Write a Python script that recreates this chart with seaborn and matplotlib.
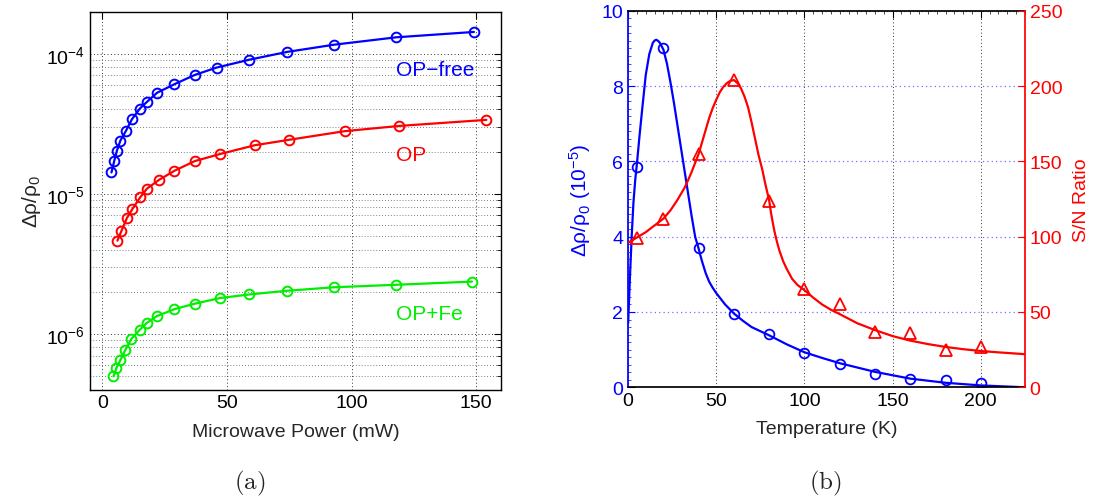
import matplotlib
matplotlib.use("Agg")
import matplotlib.pyplot as plt
import seaborn as sns
import numpy as np
from matplotlib.ticker import MultipleLocator, LogLocator, NullFormatter

# ---- panel (a): signal vs microwave power (log y) ----
free_power = [3.6, 4.7, 5.75, 7.2, 9.4, 11.8, 15.0, 17.9, 21.9, 28.9, 37.1, 45.8, 58.9, 74.1, 93.0, 118.0, 149.1]
free_signal = [1.42e-5, 1.71e-5, 2.02e-5, 2.40e-5, 2.81e-5, 3.40e-5, 4.06e-5, 4.54e-5, 5.26e-5,
               6.06e-5, 7.06e-5, 7.96e-5, 9.06e-5, 1.03e-4, 1.16e-4, 1.31e-4, 1.43e-4]

op_power = [6.0, 7.6, 9.8, 11.9, 15.1, 17.9, 22.8, 28.9, 37.0, 47.1, 61.1, 75.0, 97.3, 119.1, 154.1]
op_signal = [4.63e-6, 5.42e-6, 6.71e-6, 7.73e-6, 9.41e-6, 1.09e-5, 1.26e-5, 1.46e-5, 1.71e-5,
             1.92e-5, 2.22e-5, 2.43e-5, 2.80e-5, 3.05e-5, 3.37e-5]

fe_power = [4.4, 5.6, 7.2, 9.2, 11.6, 15.0, 17.9, 21.9, 28.9, 37.0, 47.1, 58.9, 74.1, 93.0, 118.0, 148.3]
fe_signal = [4.97e-7, 5.70e-7, 6.50e-7, 7.69e-7, 9.21e-7, 1.07e-6, 1.20e-6, 1.34e-6, 1.50e-6,
             1.64e-6, 1.80e-6, 1.91e-6, 2.03e-6, 2.15e-6, 2.24e-6, 2.36e-6]

# ---- panel (b): signal and S/N vs temperature ----
temp_pts = [5, 20, 40, 60, 80, 100, 120, 140, 160, 180, 200]
drho_pts = [5.86, 9.01, 3.70, 1.94, 1.41, 0.92, 0.63, 0.34, 0.23, 0.19, 0.12]
snr_pts = [99, 112, 155, 204, 124, 65, 55, 37, 36, 25, 27]

# fitted curves
drho_fit_t = [0, 1, 2, 3, 4, 5, 6.5, 8, 10, 12, 14, 15, 16, 17, 18, 20, 22, 24, 26, 28, 30, 32, 34,
              36, 38, 40, 41, 42, 44, 46, 48, 50, 55, 60, 65, 70, 80, 90, 100, 110, 120, 140, 160,
              180, 200, 225]
drho_fit = [1.7, 2.9, 4.0, 4.9, 5.5, 5.95, 6.7, 7.4, 8.3, 8.85, 9.15, 9.21, 9.23, 9.2, 9.15, 8.97,
            8.6, 8.1, 7.55, 6.95, 6.35, 5.75, 5.15, 4.55, 4.0, 3.68, 3.5, 3.33, 3.03, 2.8, 2.64,
            2.5, 2.2, 1.96, 1.77, 1.6, 1.38, 1.14, 0.93, 0.78, 0.64, 0.41, 0.23, 0.12, 0.05, 0.0]
snr_fit_t = [0, 5, 10, 15, 20, 24, 28, 32, 34, 36, 38, 40, 42, 44, 46, 48, 50, 52, 54, 56, 58, 60,
             62, 64, 66, 68, 70, 72, 74, 76, 78, 80, 81, 82, 83, 84, 85, 86, 88, 90, 93, 96, 100,
             105, 110, 115, 120, 130, 140, 150, 160, 170, 180, 190, 200, 210, 225]
snr_fit = [96, 99.5, 103, 107.5, 112, 117.5, 124.5, 132.5, 137.5, 143, 149, 155, 163, 171, 179,
           185.5, 191, 196, 199.5, 202, 203.5, 204, 202, 198.5, 193, 186, 176, 165, 154, 145, 134,
           124, 116, 109.5, 103.5, 98.5, 94, 90, 83.5, 78.5, 72, 68, 64.5, 59.5, 55, 51.5, 48.6,
           42.5, 38, 34, 31, 28.7, 26.8, 25.3, 24.1, 23.2, 22]

BLUE, RED, GREEN = "#0000ff", "#ff0000", "#00ee00"
DOTS = (0, (1, 2.5))

sns.set_theme(style="white")
plt.rcParams["font.family"] = ["Liberation Sans", "DejaVu Sans"]
plt.rcParams["mathtext.fontset"] = "custom"
plt.rcParams["mathtext.rm"] = "Liberation Sans"
plt.rcParams["mathtext.it"] = "Liberation Sans:italic"
plt.rcParams["xtick.direction"] = "in"
plt.rcParams["ytick.direction"] = "in"

fig = plt.figure(figsize=(11.02, 5.02), dpi=100)
ax1 = fig.add_axes([0.0817, 0.222, 0.373, 0.753])
ax2 = fig.add_axes([0.570, 0.2265, 0.360, 0.750])

# ---------------- panel (a) ----------------
for xs, ys, col in [(free_power, free_signal, BLUE), (op_power, op_signal, RED), (fe_power, fe_signal, GREEN)]:
    sns.lineplot(x=xs, y=ys, color=col, marker="o", mfc="none", mec=col, ms=7, mew=1.4,
                 lw=1.6, ax=ax1)

ax1.set_yscale("log")
ax1.set_xlim(-5, 160)
ax1.set_ylim(4e-7, 2e-4)
ax1.xaxis.set_major_locator(MultipleLocator(50))
ax1.yaxis.set_major_locator(LogLocator(base=10))
ax1.yaxis.set_minor_locator(LogLocator(base=10, subs=np.arange(2, 10)))
ax1.yaxis.set_minor_formatter(NullFormatter())
ax1.grid(True, which="major", color="#333333", ls=DOTS, lw=0.7)
ax1.grid(True, which="minor", axis="y", color="#555555", ls=DOTS, lw=0.6)
ax1.set_axisbelow(True)
ax1.tick_params(which="both", top=True, right=True, labelsize=14, colors="black")
ax1.tick_params(which="major", length=5, width=0.8)
ax1.tick_params(which="minor", length=3, width=0.6)
for sp in ax1.spines.values():
    sp.set_color("black")
    sp.set_linewidth(1.0)
ax1.set_xlabel("Microwave Power (mW)", fontsize=14, labelpad=8)
ax1.set_ylabel("\u0394\u03c1/\u03c1$_0$", fontsize=15, labelpad=2)
ax1.text(118, 7.7e-5, "OP\u2212free", color=BLUE, fontsize=15, va="center")
ax1.text(118, 1.92e-5, "OP", color=RED, fontsize=15, va="center")
ax1.text(118, 1.39e-6, "OP+Fe", color=GREEN, fontsize=15, va="center")

# ---------------- panel (b) ----------------
ax3 = ax2.twinx()
sns.lineplot(x=drho_fit_t, y=drho_fit, color=BLUE, lw=1.6, ax=ax2)
sns.lineplot(x=temp_pts, y=drho_pts, color=BLUE, ls="", marker="o", mfc="none", mec=BLUE,
             ms=7, mew=1.3, ax=ax2)
sns.lineplot(x=snr_fit_t, y=snr_fit, color=RED, lw=1.6, ax=ax3)
sns.lineplot(x=temp_pts, y=snr_pts, color=RED, ls="", marker="^", mfc="none", mec=RED,
             ms=8, mew=1.3, ax=ax3)

ax2.set_xlim(0, 225)
ax2.set_ylim(0, 10)
ax3.set_ylim(0, 250)
ax2.xaxis.set_major_locator(MultipleLocator(50))
ax2.xaxis.set_minor_locator(MultipleLocator(5))
ax2.yaxis.set_major_locator(MultipleLocator(2))
ax2.yaxis.set_minor_locator(MultipleLocator(0.2))
ax3.yaxis.set_major_locator(MultipleLocator(50))
ax2.grid(True, axis="x", which="major", color="#333333", ls=DOTS, lw=0.7)
ax2.grid(True, axis="y", which="major", color="#7070ff", ls=DOTS, lw=0.9)
ax2.tick_params(axis="x", which="both", top=True, labelsize=14, colors="black")
ax2.tick_params(axis="y", which="both", labelsize=14, colors=BLUE)
ax2.tick_params(which="major", length=5, width=0.8)
ax2.tick_params(which="minor", length=2, width=0.5)
ax3.tick_params(axis="y", labelsize=14, colors=RED, length=5, width=0.8)
for sp in ["top", "bottom"]:
    ax2.spines[sp].set_color("black")
ax2.spines["left"].set_color(BLUE)
ax3.spines["right"].set_color(RED)
ax3.spines["left"].set_visible(False)
ax3.spines["top"].set_visible(False)
ax3.spines["bottom"].set_visible(False)
ax2.spines["right"].set_visible(False)

ax2.set_xlabel("Temperature (K)", fontsize=14, labelpad=8)
ax2.set_ylabel("\u0394\u03c1/\u03c1$_0$ (10$^{-5}$)", fontsize=15, color=BLUE, labelpad=6)
ax3.set_ylabel("S/N Ratio", fontsize=14, color=RED, labelpad=8)

fig.text(0.227, 0.025, r"$\mathrm{(a)}$", fontsize=18, ha="center", math_fontfamily="cm")
fig.text(0.749, 0.025, r"$\mathrm{(b)}$", fontsize=18, ha="center", math_fontfamily="cm")

fig.savefig("out.png", dpi=100)
